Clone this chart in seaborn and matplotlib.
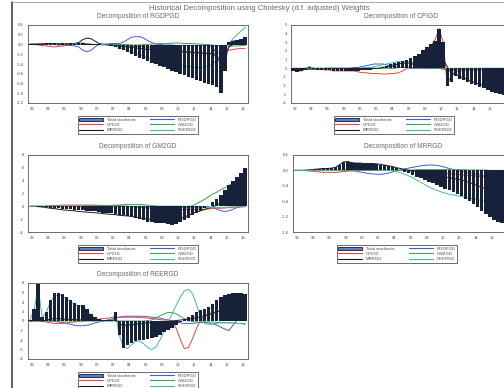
import numpy as np
import pandas as pd
import matplotlib
matplotlib.use("Agg")
import matplotlib.pyplot as plt
from matplotlib.patches import Patch
from matplotlib.lines import Line2D
import seaborn as sns

# ---------------------------------------------------------------------------
# Historical decomposition data, semi-annual observations 1991H2 .. 2018H1
# ---------------------------------------------------------------------------
START_YEAR = 1991.75
STEP = 0.5

SHOCKS = ["RGDPGD", "CPIGD", "GM2GD", "MRRGD", "REERGD"]

# --- Decomposition of RGDPGD ---
rgdpgd_total = [0.01, 0.02, 0.01, 0.02, 0.03, 0.02, 0.03, 0.02, 0.03, 0.02,
                0.03, 0.02, 0.04, 0.03, 0.02, 0.01, 0.02, 0.01, 0.00, -0.01,
                -0.03, -0.06, -0.09, -0.12, -0.16, -0.19, -0.23, -0.27, -0.30, -0.34,
                -0.37, -0.40, -0.44, -0.47, -0.50, -0.54, -0.57, -0.60, -0.63, -0.66,
                -0.69, -0.72, -0.75, -0.78, -0.81, -0.84, -0.88, -1.00, -0.55, 0.06,
                0.08, 0.10, 0.12, 0.15]
rgdpgd_by_rgdpgd = [0.00, 0.00, 0.01, 0.00, 0.01, 0.00, 0.00, -0.01, -0.01, -0.02,
                    -0.02, -0.03, -0.05, -0.12, -0.15, -0.12, -0.05, 0.00, 0.01, 0.01,
                    0.02, 0.02, 0.02, 0.05, 0.10, 0.15, 0.16, 0.16, 0.13, 0.08,
                    0.04, 0.01, 0.00, -0.01, -0.01, -0.01, -0.02, -0.02, -0.02, -0.02,
                    -0.02, -0.02, -0.02, -0.02, -0.03, -0.05, -0.20, -0.45, -0.35, -0.05,
                    0.08, 0.06, 0.04, 0.03]
rgdpgd_by_cpigd = [0.00, 0.00, -0.01, -0.02, -0.03, -0.04, -0.05, -0.04, -0.03, -0.02,
                   0.00, 0.01, 0.02, 0.03, 0.02, 0.01, 0.00, 0.00, -0.01, -0.01,
                   -0.01, -0.02, -0.02, -0.03, -0.03, -0.03, -0.04, -0.04, -0.05, -0.05,
                   -0.06, -0.07, -0.08, -0.09, -0.10, -0.11, -0.12, -0.13, -0.14, -0.15,
                   -0.16, -0.17, -0.18, -0.18, -0.19, -0.19, -0.18, -0.16, -0.14, -0.12,
                   -0.10, -0.09, -0.08, -0.08]
rgdpgd_by_gm2gd = [0.00, 0.00, 0.00, 0.01, 0.01, 0.01, 0.01, 0.00, 0.00, 0.00,
                   0.00, 0.01, 0.01, 0.01, 0.00, 0.00, 0.00, 0.00, 0.00, 0.00,
                   0.00, 0.00, 0.00, 0.00, 0.00, -0.01, -0.01, -0.01, 0.00, 0.00,
                   0.01, 0.01, 0.02, 0.02, 0.02, 0.03, 0.03, 0.03, 0.02, 0.02,
                   0.02, 0.01, 0.01, 0.00, 0.00, -0.01, -0.02, -0.03, -0.03, -0.03,
                   -0.03, -0.03, -0.02, -0.02]
rgdpgd_by_mrrgd = [0.01, 0.01, 0.01, 0.01, 0.02, 0.02, 0.02, 0.02, 0.02, 0.02,
                   0.02, 0.02, 0.04, 0.10, 0.13, 0.12, 0.07, 0.02, 0.00, 0.00,
                   -0.01, -0.02, -0.03, -0.04, -0.05, -0.06, -0.07, -0.08, -0.09, -0.10,
                   -0.10, -0.11, -0.12, -0.12, -0.13, -0.14, -0.14, -0.15, -0.15, -0.16,
                   -0.16, -0.17, -0.17, -0.18, -0.18, -0.19, -0.25, -0.30, -0.20, -0.05,
                   0.00, 0.02, 0.03, 0.04]
rgdpgd_by_reergd = [0.00, 0.00, 0.00, 0.00, 0.00, 0.00, 0.01, 0.01, 0.01, 0.01,
                    0.01, 0.01, 0.01, 0.00, 0.00, 0.00, 0.00, 0.00, 0.00, -0.01,
                    -0.02, -0.04, -0.06, -0.09, -0.12, -0.15, -0.18, -0.21, -0.24, -0.27,
                    -0.29, -0.31, -0.33, -0.35, -0.37, -0.39, -0.41, -0.43, -0.44, -0.45,
                    -0.46, -0.47, -0.47, -0.46, -0.44, -0.40, -0.32, -0.22, -0.10, 0.02,
                    0.12, 0.20, 0.28, 0.35]

# --- Decomposition of CPIGD ---
cpigd_total = [-0.30, -0.40, -0.35, -0.20, 0.10, -0.10, -0.15, -0.20, -0.20, -0.25,
               -0.30, -0.30, -0.35, -0.35, -0.35, -0.30, -0.30, -0.25, -0.20, -0.15,
               -0.10, 0.00, 0.10, 0.30, 0.45, 0.60, 0.75, 0.90, 1.00, 1.20,
               1.40, 1.70, 2.10, 2.50, 2.80, 3.20, 4.50, 3.00, -2.00, -1.60,
               -0.90, -1.20, -1.40, -1.60, -1.80, -1.95, -2.10, -2.30, -2.50, -2.70,
               -2.85, -3.00, -3.10, -3.20]
cpigd_by_rgdpgd = [0.00, 0.00, -0.10, -0.10, 0.00, 0.00, 0.00, 0.00, 0.00, 0.00,
                   0.00, 0.00, 0.00, 0.00, 0.00, 0.10, 0.10, 0.20, 0.30, 0.40,
                   0.50, 0.50, 0.50, 0.40, 0.30, 0.20, 0.10, 0.10, 0.10, 0.00,
                   0.00, 0.00, 0.00, 0.00, 0.00, 0.00, 0.00, -0.10, -0.20, -0.20,
                   -0.10, -0.10, -0.10, -0.10, -0.10, -0.10, -0.10, -0.10, -0.10, -0.10,
                   -0.10, -0.10, -0.10, -0.10]
cpigd_by_cpigd = [-0.20, -0.30, -0.30, -0.10, 0.20, 0.00, -0.10, -0.10, -0.20, -0.20,
                  -0.30, -0.30, -0.30, -0.30, -0.30, -0.30, -0.40, -0.50, -0.50, -0.60,
                  -0.60, -0.60, -0.65, -0.65, -0.60, -0.60, -0.50, -0.30, 0.00, 0.30,
                  0.60, 1.00, 1.50, 2.00, 2.60, 3.30, 4.60, 3.00, -1.90, -0.80,
                  -0.40, -0.30, -0.20, -0.20, -0.20, -0.20, -0.20, -0.20, -0.20, -0.20,
                  -0.20, -0.20, -0.20, -0.20]
cpigd_by_gm2gd = [0.00, 0.00, 0.00, 0.00, 0.10, 0.00, 0.00, 0.00, 0.00, 0.00,
                  0.00, 0.00, 0.00, 0.00, 0.00, 0.00, 0.00, 0.00, 0.00, 0.00,
                  0.00, 0.00, 0.00, 0.00, 0.00, 0.00, 0.10, 0.10, 0.10, 0.10,
                  0.10, 0.10, 0.10, 0.10, 0.00, 0.00, 0.00, 0.00, -0.10, -0.10,
                  0.00, 0.00, 0.00, 0.00, 0.00, 0.00, 0.00, 0.00, 0.00, 0.00,
                  0.00, 0.00, 0.00, 0.00]
cpigd_by_mrrgd = [-0.10, -0.10, -0.10, -0.10, -0.10, -0.10, -0.10, -0.10, 0.00, 0.00,
                  0.00, 0.00, 0.00, 0.00, 0.00, 0.00, 0.00, 0.00, 0.00, 0.00,
                  0.00, 0.00, 0.10, 0.20, 0.30, 0.40, 0.50, 0.60, 0.60, 0.60,
                  0.60, 0.70, 0.80, 0.90, 1.00, 1.10, 1.20, 1.00, 0.20, -0.60,
                  -0.70, -0.90, -1.10, -1.30, -1.50, -1.70, -1.80, -2.00, -2.20, -2.40,
                  -2.50, -2.70, -2.80, -2.90]
cpigd_by_reergd = [-0.10, -0.20, -0.10, 0.00, 0.10, 0.00, 0.00, 0.00, -0.10, -0.10,
                   -0.10, -0.10, -0.10, -0.10, -0.10, 0.00, 0.00, 0.00, 0.10, 0.10,
                   0.20, 0.30, 0.40, 0.50, 0.60, 0.70, 0.80, 0.80, 0.80, 0.70,
                   0.60, 0.50, 0.40, 0.30, 0.30, 0.20, 0.20, 0.10, -0.20, -0.30,
                   -0.20, -0.10, 0.00, 0.00, 0.00, 0.00, 0.00, 0.00, 0.00, 0.00,
                   0.00, 0.00, 0.00, 0.00]

# --- Decomposition of GM2GD ---
gm2gd_total = [0.00, 0.00, -0.05, -0.10, -0.15, -0.20, -0.25, -0.30, -0.35, -0.40,
               -0.45, -0.50, -0.55, -0.60, -0.70, -0.75, -0.80, -0.90, -1.00, -1.05,
               -1.10, -1.20, -1.30, -1.40, -1.50, -1.60, -1.85, -2.00, -2.20, -2.40,
               -2.50, -2.55, -2.60, -2.65, -2.75, -2.90, -2.80, -2.50, -2.20, -1.80,
               -1.30, -1.00, -0.70, -0.30, 0.10, 0.60, 1.20, 1.80, 2.60, 3.30,
               3.90, 4.50, 5.20, 5.90]
gm2gd_by_rgdpgd = [0.00, 0.00, 0.00, 0.00, 0.00, 0.00, 0.00, 0.00, 0.00, 0.00,
                   0.00, 0.00, 0.00, 0.00, 0.00, 0.00, 0.00, 0.00, 0.00, 0.00,
                   0.00, 0.00, 0.00, 0.00, 0.00, 0.00, 0.00, 0.00, 0.00, 0.00,
                   0.00, 0.00, 0.00, 0.00, 0.00, 0.00, 0.00, 0.00, -0.05, -0.05,
                   -0.05, -0.05, -0.05, -0.05, -0.05, -0.20, -0.45, -0.70, -0.80, -0.70,
                   -0.45, -0.20, 0.00, 0.05]
gm2gd_by_cpigd = [0.00, 0.00, 0.00, 0.00, 0.05, 0.10, 0.10, 0.15, 0.20, 0.20,
                  0.20, 0.20, 0.20, 0.20, 0.20, 0.20, 0.20, 0.15, 0.15, 0.10,
                  0.10, 0.10, 0.10, 0.05, 0.00, -0.05, -0.10, -0.15, -0.20, -0.25,
                  -0.30, -0.35, -0.40, -0.45, -0.50, -0.50, -0.50, -0.50, -0.50, -0.50,
                  -0.50, -0.50, -0.45, -0.45, -0.40, -0.35, -0.30, -0.30, -0.25, -0.20,
                  -0.15, -0.10, -0.10, -0.05]
gm2gd_by_gm2gd = [0.00, 0.00, 0.00, 0.00, 0.00, 0.00, 0.00, 0.00, 0.00, 0.00,
                  0.00, 0.00, 0.05, 0.05, 0.10, 0.10, 0.10, 0.10, 0.10, 0.15,
                  0.15, 0.20, 0.20, 0.25, 0.30, 0.30, 0.30, 0.30, 0.25, 0.20,
                  0.10, 0.05, 0.00, 0.00, 0.00, 0.00, 0.00, 0.00, 0.00, 0.00,
                  0.10, 0.40, 0.75, 1.10, 1.50, 1.90, 2.20, 2.60, 2.90, 3.30,
                  3.60, 3.90, 4.10, 4.30]
gm2gd_by_mrrgd = [0.00, 0.00, -0.05, -0.10, -0.20, -0.30, -0.35, -0.45, -0.55, -0.60,
                  -0.65, -0.70, -0.80, -0.85, -0.90, -0.95, -1.00, -1.05, -1.15, -1.20,
                  -1.25, -1.30, -1.40, -1.45, -1.50, -1.55, -1.70, -1.80, -1.90, -2.00,
                  -2.00, -2.00, -2.00, -2.00, -2.05, -2.10, -2.05, -1.90, -1.70, -1.40,
                  -1.10, -0.90, -0.70, -0.50, -0.30, -0.10, 0.20, 0.50, 1.00, 1.40,
                  1.80, 2.20, 2.60, 3.00]
gm2gd_by_reergd = [0.00, 0.00, 0.00, 0.00, 0.00, 0.00, 0.00, 0.00, 0.00, 0.00,
                   0.00, 0.00, -0.05, -0.05, -0.05, -0.05, -0.05, -0.05, -0.05, -0.05,
                   -0.05, -0.05, -0.05, -0.05, -0.05, -0.05, -0.05, -0.05, -0.05, -0.10,
                   -0.10, -0.10, -0.15, -0.15, -0.15, -0.20, -0.20, -0.20, -0.20, -0.20,
                   -0.20, -0.20, -0.20, -0.20, -0.20, -0.20, -0.20, -0.15, -0.15, -0.10,
                   -0.10, -0.05, -0.05, -0.05]

# --- Decomposition of MRRGD ---
mrrgd_total = [0.00, 0.01, 0.00, 0.01, 0.02, 0.03, 0.04, 0.05, 0.05, 0.06,
               0.08, 0.15, 0.22, 0.23, 0.20, 0.18, 0.18, 0.17, 0.17, 0.17,
               0.16, 0.15, 0.13, 0.11, 0.08, 0.05, 0.02, -0.03, -0.08, -0.13,
               -0.17, -0.21, -0.26, -0.30, -0.34, -0.39, -0.44, -0.48, -0.52, -0.57,
               -0.62, -0.67, -0.73, -0.80, -0.88, -0.96, -1.05, -1.13, -1.21, -1.29,
               -1.34, -1.37, -1.28, -1.18]
mrrgd_by_rgdpgd = [0.00, 0.00, 0.00, 0.00, 0.00, 0.00, 0.00, 0.00, 0.00, 0.00,
                   0.00, 0.00, 0.00, 0.00, -0.01, -0.02, -0.04, -0.06, -0.08, -0.09,
                   -0.10, -0.10, -0.09, -0.07, -0.04, -0.01, 0.02, 0.04, 0.06, 0.08,
                   0.10, 0.12, 0.13, 0.14, 0.14, 0.13, 0.11, 0.08, 0.05, 0.02,
                   0.00, -0.02, -0.04, -0.06, -0.08, -0.10, -0.13, -0.16, -0.20, -0.24,
                   -0.27, -0.30, -0.30, -0.30]
mrrgd_by_cpigd = [0.00, 0.00, 0.00, -0.01, -0.02, -0.03, -0.04, -0.05, -0.05, -0.05,
                  -0.05, -0.04, -0.03, -0.02, -0.01, 0.00, 0.00, 0.00, 0.00, 0.00,
                  0.00, 0.00, 0.00, 0.00, 0.00, 0.00, 0.00, 0.00, 0.00, 0.00,
                  -0.01, -0.01, -0.02, -0.03, -0.04, -0.05, -0.06, -0.07, -0.08, -0.09,
                  -0.10, -0.11, -0.12, -0.13, -0.14, -0.15, -0.16, -0.17, -0.18, -0.19,
                  -0.19, -0.19, -0.18, -0.18]
mrrgd_by_gm2gd = [0.00, 0.00, 0.00, 0.00, 0.00, 0.00, 0.00, 0.00, 0.00, 0.00,
                  0.00, 0.00, 0.00, 0.00, 0.00, 0.00, 0.00, 0.00, 0.00, 0.00,
                  0.00, 0.00, 0.00, 0.00, 0.00, 0.00, 0.00, 0.01, 0.01, 0.01,
                  0.02, 0.02, 0.02, 0.02, 0.02, 0.02, 0.02, 0.02, 0.02, 0.02,
                  0.02, 0.02, 0.02, 0.01, 0.01, 0.01, 0.01, 0.01, 0.00, 0.00,
                  0.00, 0.00, 0.00, 0.00]
mrrgd_by_mrrgd = [0.00, 0.00, 0.00, 0.01, 0.02, 0.03, 0.04, 0.05, 0.05, 0.06,
                  0.08, 0.15, 0.22, 0.23, 0.20, 0.19, 0.19, 0.18, 0.18, 0.18,
                  0.17, 0.16, 0.14, 0.12, 0.10, 0.07, 0.05, 0.02, 0.00, -0.02,
                  -0.03, -0.05, -0.07, -0.09, -0.11, -0.13, -0.15, -0.17, -0.19, -0.21,
                  -0.23, -0.25, -0.28, -0.32, -0.36, -0.40, -0.44, -0.48, -0.52, -0.56,
                  -0.58, -0.60, -0.55, -0.50]
mrrgd_by_reergd = [0.00, 0.00, 0.00, 0.00, 0.00, 0.00, 0.00, 0.00, 0.00, 0.00,
                   0.00, 0.00, 0.01, 0.02, 0.02, 0.02, 0.02, 0.02, 0.01, 0.01,
                   0.01, 0.00, 0.00, 0.00, -0.01, -0.03, -0.06, -0.10, -0.14, -0.19,
                   -0.25, -0.31, -0.37, -0.43, -0.48, -0.52, -0.56, -0.59, -0.62, -0.64,
                   -0.66, -0.68, -0.70, -0.72, -0.74, -0.76, -0.78, -0.80, -0.82, -0.84,
                   -0.86, -0.87, -0.88, -0.89]

# --- Decomposition of REERGD ---
reergd_total = [0.30, 2.50, 7.70, 0.80, 2.00, 4.50, 5.80, 6.00, 5.60, 5.10,
                4.50, 3.80, 3.40, 3.40, 2.50, 1.40, 0.80, 0.50, 0.30, 0.20,
                0.30, 2.00, -3.00, -5.60, -5.00, -4.60, -4.30, -4.00, -3.90, -3.80,
                -3.60, -3.30, -2.90, -2.40, -1.90, -1.40, -0.80, -0.30, 0.30, 0.80,
                1.30, 1.90, 2.30, 2.60, 3.00, 3.60, 4.40, 5.00, 5.40, 5.70,
                5.90, 6.00, 6.00, 5.70]
reergd_by_rgdpgd = [0.00, 0.00, 0.10, 0.00, 0.00, 0.00, -0.10, -0.20, -0.30, -0.50,
                    -0.70, -0.90, -1.00, -1.00, -0.90, -0.70, -0.40, -0.20, 0.00, 0.20,
                    0.40, 0.60, 0.80, 1.00, 1.00, 1.00, 1.00, 1.00, 1.00, 0.90,
                    0.80, 0.70, 0.60, 0.40, 0.20, 0.00, -0.20, -0.40, -0.50, -0.50,
                    -0.50, -0.40, -0.30, -0.30, -0.40, -0.60, -0.90, -1.30, -1.70, -2.00,
                    -0.90, 0.20, 0.80, 1.00]
reergd_by_cpigd = [0.00, 0.00, 0.00, -0.10, -0.20, -0.40, -0.50, -0.50, -0.50, -0.40,
                   -0.30, -0.20, -0.10, 0.00, 0.10, 0.20, 0.30, 0.40, 0.50, 0.60,
                   0.70, 0.80, 0.80, 0.80, 0.80, 0.80, 0.80, 0.70, 0.70, 0.60,
                   0.50, 0.40, 0.30, 0.20, 0.20, -0.20, -1.50, -3.80, -5.80, -5.60,
                   -3.80, -1.60, 0.10, 1.00, 1.50, 1.80, 1.90, 2.00, 2.00, 1.90,
                   1.80, 1.70, 1.60, 1.50]
reergd_by_gm2gd = [0.00, 0.00, 0.00, 0.00, 0.00, 0.00, 0.00, 0.00, 0.00, 0.00,
                   0.00, 0.00, 0.00, 0.00, 0.00, 0.00, 0.00, 0.00, 0.00, 0.00,
                   0.00, 0.00, 0.00, 0.00, 0.00, 0.00, 0.00, 0.00, 0.00, 0.10,
                   0.20, 0.60, 1.10, 1.50, 1.80, 1.80, 1.50, 1.00, 0.50, 0.10,
                   -0.10, -0.20, -0.20, -0.20, -0.20, -0.20, -0.30, -0.30, -0.30, -0.40,
                   -0.40, -0.50, -0.50, -0.50]
reergd_by_mrrgd = [0.00, 0.20, 0.50, 0.00, 0.20, 0.40, 0.50, 0.50, 0.40, 0.40,
                   0.30, 0.30, 0.20, 0.30, 0.20, 0.10, 0.10, 0.10, 0.10, 0.10,
                   0.10, 0.30, -0.50, -1.00, -0.90, -0.80, -0.70, -0.60, -0.50, -0.40,
                   -0.30, -0.30, -0.20, -0.20, -0.10, 0.00, 0.10, 0.20, 0.30, 0.40,
                   0.50, 0.70, 0.90, 1.10, 1.30, 1.60, 1.90, 2.20, 2.50, 2.70,
                   2.90, 3.00, 3.10, 3.10]
reergd_by_reergd = [0.30, 2.30, 7.00, 0.80, 1.80, 4.00, 5.20, 5.50, 5.20, 4.70,
                    4.10, 3.50, 3.10, 3.00, 2.20, 1.20, 0.60, 0.30, 0.10, 0.00,
                    0.10, 1.50, -3.00, -5.50, -5.80, -5.00, -4.30, -4.20, -4.80, -5.60,
                    -6.00, -5.50, -4.00, -2.20, -0.30, 1.50, 3.30, 5.00, 6.30, 6.70,
                    5.80, 3.50, 0.80, -0.50, -0.70, -0.60, -0.50, -0.40, -0.40, -0.40,
                    -0.40, -0.50, -0.60, -0.70]

# y-axis ticks per panel
rgdpgd_yticks = [0.4, 0.2, 0.0, -0.2, -0.4, -0.6, -0.8, -1.0, -1.2]
cpigd_yticks = [5, 4, 3, 2, 1, 0, -1, -2, -3, -4]
gm2gd_yticks = [8, 6, 4, 2, 0, -2, -4]
mrrgd_yticks = [0.4, 0.0, -0.4, -0.8, -1.2, -1.6]
reergd_yticks = [8, 6, 4, 2, 0, -2, -4, -6, -8]

# x-axis year labels (two-digit years)
year_ticks = list(range(1992, 2019, 2))

# ---------------------------------------------------------------------------
# Styling
# ---------------------------------------------------------------------------
sns.set_style("white")
plt.rcParams["font.family"] = ["Liberation Sans", "DejaVu Sans"]

COLORS = {"RGDPGD": "#4d57d6", "CPIGD": "#e6453b", "GM2GD": "#3aa552",
          "MRRGD": "#1a1a1a", "REERGD": "#3fbca6"}
BAR_COLOR = "#18213a"
PATCH_COLOR = "#5a7fd2"
TEXT_COLOR = "#4a4a4a"
TITLE_COLOR = "#6a6a6a"

W, H = 504, 388
fig = plt.figure(figsize=(W / 100, H / 100), dpi=100)


def fig_rect(x0, y0, x1, y1):
    """Pixel box (top-left origin) -> figure-fraction rect."""
    return [x0 / W, 1 - y1 / H, (x1 - x0) / W, (y1 - y0) / H]


# name, totals, shock contributions, y ticks, decimals, pixel box, legend centre offset
panels = [
    ("RGDPGD", rgdpgd_total,
     [rgdpgd_by_rgdpgd, rgdpgd_by_cpigd, rgdpgd_by_gm2gd, rgdpgd_by_mrrgd, rgdpgd_by_reergd],
     rgdpgd_yticks, 1, (28, 25, 248, 103), 110),
    ("CPIGD", cpigd_total,
     [cpigd_by_rgdpgd, cpigd_by_cpigd, cpigd_by_gm2gd, cpigd_by_mrrgd, cpigd_by_reergd],
     cpigd_yticks, 0, (291, 25, 511, 103), 103),
    ("GM2GD", gm2gd_total,
     [gm2gd_by_rgdpgd, gm2gd_by_cpigd, gm2gd_by_gm2gd, gm2gd_by_mrrgd, gm2gd_by_reergd],
     gm2gd_yticks, 0, (28, 155, 248, 232), 110),
    ("MRRGD", mrrgd_total,
     [mrrgd_by_rgdpgd, mrrgd_by_cpigd, mrrgd_by_gm2gd, mrrgd_by_mrrgd, mrrgd_by_reergd],
     mrrgd_yticks, 1, (293, 155, 513, 232), 104),
    ("REERGD", reergd_total,
     [reergd_by_rgdpgd, reergd_by_cpigd, reergd_by_gm2gd, reergd_by_mrrgd, reergd_by_reergd],
     reergd_yticks, 0, (28, 283, 248, 359), 110),
]

for name, total, contribs, yticks, decimals, (x0, y0, x1, y1), leg_dx in panels:
    ax = fig.add_axes(fig_rect(x0, y0, x1, y1))
    n = len(total)
    periods = START_YEAR + STEP * np.arange(n)

    long = pd.DataFrame({
        "period": np.tile(periods, len(SHOCKS)),
        "shock": np.repeat(SHOCKS, n),
        "value": np.concatenate([np.asarray(c, dtype=float) for c in contribs]),
    })
    sns.lineplot(data=long, x="period", y="value", hue="shock", hue_order=SHOCKS,
                 palette=COLORS, linewidth=0.7, estimator=None, legend=False,
                 ax=ax, zorder=2)
    ax.bar(periods, total, width=0.43, color=BAR_COLOR, linewidth=0, zorder=3)

    ax.set_xlim(1991.5, 2018.6)
    ax.set_ylim(min(yticks), max(yticks))

    # panels running past the page edge only label the years that stay visible
    data_to_px = (x1 - x0) / (2018.6 - 1991.5)
    shown = [y for y in year_ticks if x0 + (y - 1991.5) * data_to_px + 4 <= W]
    ax.set_xticks(shown)
    ax.set_xticklabels([f"{y % 100:02d}" for y in shown])
    ax.set_xticks(range(1992, 2019), minor=True)
    ax.set_yticks(yticks)
    ax.set_yticklabels([f"{v:.{decimals}f}" for v in yticks])
    ax.set_xlabel("")
    ax.set_ylabel("")
    ax.tick_params(axis="both", which="major", direction="out", length=1.8, width=0.4,
                   labelsize=3.0, pad=1.2, colors="#555555", labelcolor=TEXT_COLOR)
    ax.tick_params(axis="x", which="minor", direction="out", length=1.0, width=0.3,
                   colors="#555555")
    for sp in ax.spines.values():
        sp.set_linewidth(0.6)
        sp.set_color("#555555")

    # panel title
    cx = (x0 + x1) / 2
    fig.text(cx / W, 1 - (y0 - 8) / H, f"Decomposition of {name}", ha="center",
             va="center", fontsize=4.8, color=TITLE_COLOR)

    # legend below the panel
    handles = [
        Patch(facecolor=PATCH_COLOR, edgecolor="#1a1a1a", linewidth=0.6),
        Line2D([], [], color=COLORS["CPIGD"], lw=0.8),
        Line2D([], [], color=COLORS["MRRGD"], lw=0.8),
        Line2D([], [], color=COLORS["RGDPGD"], lw=0.8),
        Line2D([], [], color=COLORS["GM2GD"], lw=0.8),
        Line2D([], [], color=COLORS["REERGD"], lw=0.8),
    ]
    labels = ["Total stochastic", "CPIGD", "MRRGD", "RGDPGD", "GM2GD", "REERGD"]
    leg = ax.legend(handles, labels, ncol=2, loc="upper center",
                    bbox_to_anchor=((x0 + leg_dx) / W, 1 - (y1 + 13) / H),
                    bbox_transform=fig.transFigure, fontsize=3.1, frameon=True,
                    fancybox=False, framealpha=1, edgecolor="#333333",
                    handlelength=5.5, handleheight=0.9, handletextpad=0.8,
                    columnspacing=3.5, labelspacing=0.25, borderpad=0.35,
                    borderaxespad=0)
    leg.get_frame().set_linewidth(0.5)
    for t in leg.get_texts():
        t.set_color(TEXT_COLOR)

fig.text(259 / W, 1 - 8 / H,
         "Historical Decomposition using Cholesky (d.f. adjusted) Weights",
         ha="center", va="center", fontsize=5.6, color=TITLE_COLOR)

# page frame edges
fig.add_artist(Line2D([12 / W, 12 / W], [0, 1 - 2 / H], color="#333333", lw=1.1,
                      transform=fig.transFigure))
fig.add_artist(Line2D([12 / W, 1], [1 - 2 / H, 1 - 2 / H], color="#999999", lw=0.6,
                      transform=fig.transFigure))

fig.savefig("out.png", dpi=100, facecolor="white")
